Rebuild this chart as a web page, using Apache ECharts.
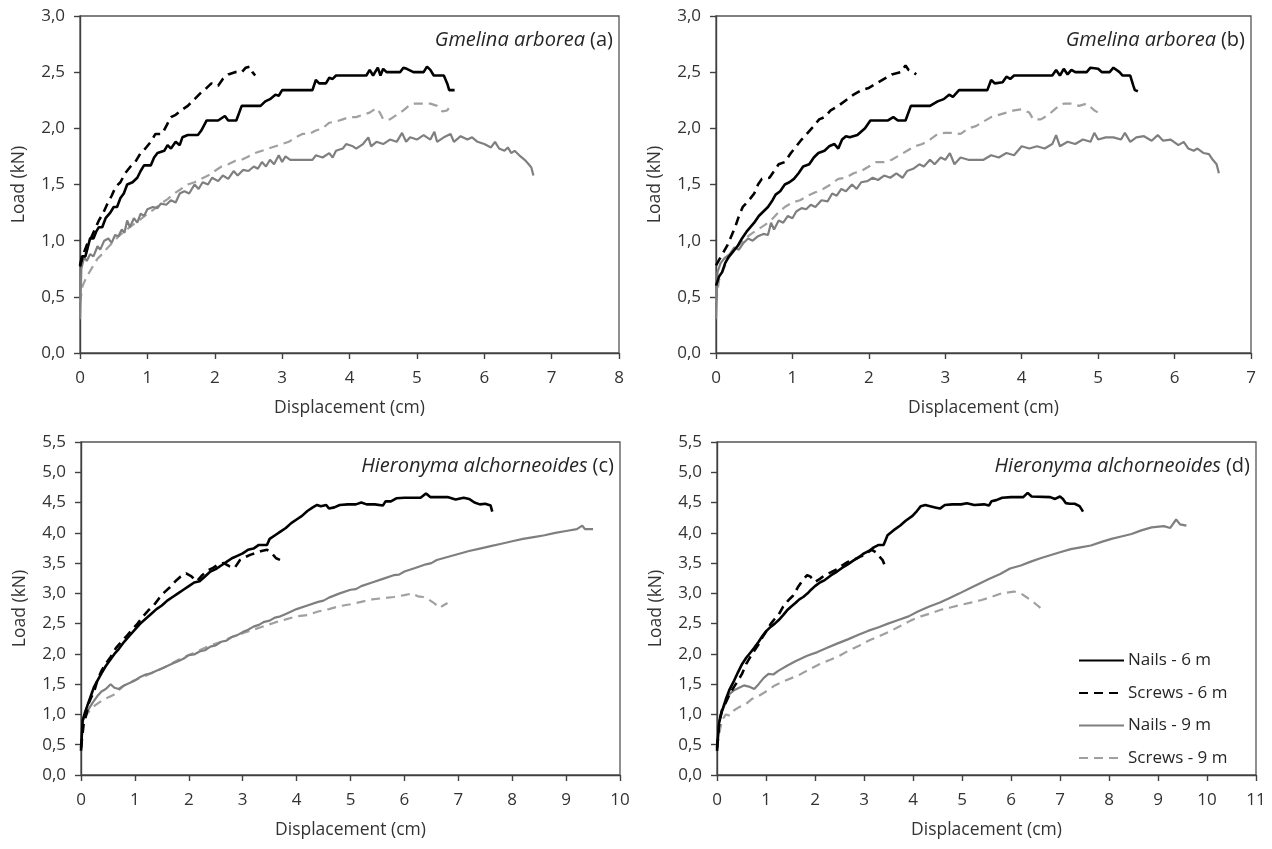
<!DOCTYPE html>
<html>
<head>
<meta charset="utf-8">
<script src="https://cdn.jsdelivr.net/npm/echarts@6/dist/echarts.min.js"></script>
<style>
html,body{margin:0;padding:0;background:#fff;}
#chart{width:1272px;height:849px;}
</style>
</head>
<body>
<div id="chart"></div>
<script>
// ---------- DATA ----------
const seriesNames = ['Nails - 6 m', 'Screws - 6 m', 'Nails - 9 m', 'Screws - 9 m'];
const panelSpecies = ['Gmelina arborea', 'Gmelina arborea', 'Hieronyma alchorneoides', 'Hieronyma alchorneoides'];
const panelLetters = ['(a)', '(b)', '(c)', '(d)'];
const xMaxes = [8, 7, 10, 11];
const yMaxes = [3.0, 3.0, 5.5, 5.5];
const xAxisTitle = 'Displacement (cm)';
const yAxisTitle = 'Load (kN)';

// Panel (a)
const aNails6 = [[0,0.78],[0.03,0.86],[0.08,0.86],[0.12,0.95],[0.15,1.02],[0.2,1.02],[0.24,1.08],[0.28,1.12],[0.33,1.12],[0.38,1.2],[0.45,1.25],[0.5,1.3],[0.55,1.3],[0.6,1.38],[0.65,1.42],[0.7,1.5],[0.78,1.52],[0.85,1.56],[0.9,1.62],[0.95,1.67],[1.05,1.67],[1.1,1.74],[1.15,1.78],[1.25,1.8],[1.3,1.85],[1.35,1.82],[1.42,1.88],[1.48,1.85],[1.52,1.92],[1.6,1.94],[1.75,1.94],[1.8,1.98],[1.88,2.07],[2.05,2.07],[2.15,2.11],[2.2,2.07],[2.32,2.07],[2.4,2.2],[2.68,2.2],[2.75,2.24],[2.82,2.26],[2.9,2.3],[2.95,2.29],[3.0,2.34],[3.45,2.34],[3.5,2.43],[3.55,2.4],[3.65,2.4],[3.7,2.45],[3.75,2.44],[3.8,2.47],[4.25,2.47],[4.3,2.52],[4.35,2.47],[4.42,2.54],[4.46,2.47],[4.5,2.53],[4.55,2.5],[4.75,2.5],[4.8,2.54],[4.85,2.53],[4.95,2.5],[5.1,2.5],[5.15,2.55],[5.2,2.52],[5.25,2.47],[5.4,2.47],[5.45,2.4],[5.48,2.34],[5.56,2.34]];
const aScrews6 = [[0,0.77],[0.05,0.88],[0.1,0.96],[0.16,1.02],[0.22,1.1],[0.28,1.18],[0.34,1.24],[0.4,1.32],[0.47,1.4],[0.53,1.48],[0.6,1.52],[0.67,1.6],[0.75,1.66],[0.82,1.7],[0.9,1.78],[0.97,1.82],[1.05,1.88],[1.12,1.95],[1.22,1.95],[1.28,2.02],[1.35,2.1],[1.42,2.12],[1.5,2.16],[1.6,2.2],[1.7,2.26],[1.8,2.32],[1.88,2.36],[1.95,2.4],[2.05,2.38],[2.12,2.44],[2.2,2.48],[2.3,2.5],[2.4,2.5],[2.46,2.54],[2.52,2.55],[2.56,2.5],[2.6,2.47]];
const aNails9 = [[0,0.3],[0.02,0.75],[0.06,0.85],[0.1,0.82],[0.15,0.88],[0.2,0.86],[0.26,0.95],[0.3,0.92],[0.36,1.0],[0.42,1.02],[0.47,0.98],[0.52,1.05],[0.57,1.04],[0.62,1.1],[0.66,1.07],[0.7,1.18],[0.74,1.12],[0.8,1.2],[0.85,1.16],[0.9,1.24],[0.95,1.22],[1.0,1.28],[1.08,1.3],[1.15,1.29],[1.2,1.33],[1.28,1.32],[1.35,1.36],[1.42,1.34],[1.48,1.42],[1.55,1.44],[1.62,1.42],[1.7,1.5],[1.76,1.46],[1.82,1.52],[1.9,1.5],[1.96,1.56],[2.05,1.53],[2.12,1.58],[2.2,1.55],[2.28,1.62],[2.34,1.58],[2.42,1.63],[2.5,1.62],[2.58,1.66],[2.64,1.64],[2.7,1.7],[2.76,1.66],[2.82,1.72],[2.88,1.68],[2.95,1.76],[3.0,1.7],[3.05,1.75],[3.12,1.72],[3.2,1.72],[3.45,1.72],[3.5,1.76],[3.6,1.74],[3.7,1.78],[3.75,1.74],[3.8,1.8],[3.9,1.82],[3.95,1.86],[4.05,1.84],[4.1,1.82],[4.2,1.86],[4.28,1.92],[4.32,1.84],[4.4,1.88],[4.5,1.86],[4.6,1.9],[4.7,1.88],[4.78,1.96],[4.84,1.88],[4.9,1.92],[5.0,1.9],[5.1,1.94],[5.2,1.9],[5.26,1.97],[5.3,1.88],[5.4,1.92],[5.5,1.95],[5.55,1.88],[5.65,1.93],[5.75,1.9],[5.82,1.92],[5.9,1.88],[6.0,1.86],[6.1,1.83],[6.16,1.88],[6.22,1.82],[6.3,1.8],[6.35,1.83],[6.4,1.78],[6.45,1.8],[6.52,1.76],[6.6,1.72],[6.66,1.68],[6.7,1.65],[6.73,1.58]];
const aScrews9 = [[0,0.45],[0.04,0.6],[0.1,0.68],[0.18,0.76],[0.26,0.84],[0.33,0.88],[0.4,0.93],[0.48,0.98],[0.56,1.03],[0.65,1.08],[0.74,1.12],[0.83,1.16],[0.92,1.2],[1.0,1.24],[1.1,1.28],[1.2,1.33],[1.3,1.37],[1.4,1.42],[1.5,1.46],[1.6,1.5],[1.7,1.52],[1.8,1.55],[1.9,1.58],[2.0,1.62],[2.1,1.66],[2.2,1.68],[2.3,1.71],[2.4,1.72],[2.5,1.75],[2.6,1.78],[2.7,1.8],[2.8,1.82],[2.9,1.84],[3.0,1.86],[3.1,1.88],[3.2,1.92],[3.3,1.95],[3.4,1.95],[3.5,1.98],[3.6,2.0],[3.7,2.05],[3.8,2.06],[3.9,2.08],[4.0,2.1],[4.1,2.1],[4.2,2.12],[4.3,2.14],[4.4,2.18],[4.45,2.14],[4.5,2.08],[4.6,2.08],[4.7,2.12],[4.8,2.16],[4.88,2.2],[4.95,2.22],[5.1,2.22],[5.2,2.22],[5.3,2.2],[5.38,2.15],[5.45,2.16],[5.5,2.2]];

// Panel (b)
const bNails6 = [[0,0.6],[0.04,0.68],[0.08,0.72],[0.12,0.8],[0.16,0.85],[0.22,0.9],[0.28,0.95],[0.34,1.02],[0.4,1.08],[0.45,1.12],[0.5,1.16],[0.56,1.22],[0.62,1.26],[0.68,1.3],[0.74,1.36],[0.78,1.41],[0.84,1.44],[0.9,1.5],[0.96,1.52],[1.02,1.55],[1.08,1.6],[1.14,1.66],[1.22,1.68],[1.28,1.74],[1.34,1.78],[1.42,1.8],[1.48,1.84],[1.55,1.86],[1.6,1.82],[1.65,1.9],[1.7,1.93],[1.75,1.92],[1.85,1.94],[1.95,2.0],[2.02,2.07],[2.25,2.07],[2.32,2.1],[2.38,2.07],[2.48,2.07],[2.55,2.2],[2.8,2.2],[2.9,2.24],[2.98,2.26],[3.05,2.3],[3.1,2.28],[3.18,2.34],[3.55,2.34],[3.6,2.43],[3.65,2.4],[3.75,2.41],[3.8,2.46],[3.85,2.44],[3.9,2.47],[4.4,2.47],[4.45,2.52],[4.5,2.47],[4.55,2.53],[4.6,2.48],[4.65,2.52],[4.7,2.5],[4.85,2.5],[4.9,2.54],[5.0,2.53],[5.05,2.5],[5.15,2.5],[5.2,2.54],[5.28,2.5],[5.32,2.47],[5.42,2.47],[5.46,2.38],[5.48,2.34],[5.52,2.33]];
const bScrews6 = [[0,0.78],[0.05,0.84],[0.1,0.9],[0.15,0.96],[0.2,1.04],[0.25,1.12],[0.3,1.22],[0.35,1.3],[0.42,1.35],[0.5,1.42],[0.55,1.5],[0.6,1.55],[0.7,1.56],[0.76,1.62],[0.82,1.68],[0.9,1.7],[0.98,1.78],[1.05,1.84],[1.12,1.9],[1.2,1.96],[1.28,2.02],[1.35,2.08],[1.42,2.1],[1.5,2.16],[1.6,2.2],[1.7,2.25],[1.8,2.3],[1.9,2.34],[2.0,2.36],[2.1,2.4],[2.2,2.44],[2.3,2.48],[2.42,2.5],[2.48,2.56],[2.52,2.52],[2.58,2.5],[2.62,2.48]];
const bNails9 = [[0,0.3],[0.02,0.72],[0.06,0.8],[0.12,0.85],[0.18,0.88],[0.24,0.94],[0.3,0.92],[0.36,0.98],[0.42,1.02],[0.48,1.0],[0.55,1.04],[0.62,1.06],[0.68,1.05],[0.72,1.16],[0.76,1.1],[0.82,1.18],[0.88,1.16],[0.94,1.22],[1.0,1.2],[1.05,1.26],[1.12,1.29],[1.18,1.28],[1.24,1.32],[1.3,1.3],[1.38,1.36],[1.46,1.35],[1.52,1.42],[1.58,1.4],[1.64,1.46],[1.7,1.44],[1.78,1.5],[1.84,1.46],[1.9,1.52],[1.98,1.53],[2.05,1.56],[2.12,1.54],[2.2,1.58],[2.28,1.56],[2.36,1.6],[2.44,1.56],[2.5,1.62],[2.58,1.64],[2.66,1.68],[2.72,1.66],[2.8,1.72],[2.86,1.68],[2.94,1.74],[3.0,1.72],[3.06,1.78],[3.12,1.68],[3.2,1.74],[3.3,1.72],[3.5,1.72],[3.6,1.76],[3.7,1.74],[3.8,1.78],[3.9,1.76],[4.0,1.84],[4.1,1.82],[4.2,1.84],[4.3,1.82],[4.4,1.86],[4.45,1.94],[4.5,1.84],[4.6,1.88],[4.7,1.86],[4.8,1.9],[4.9,1.88],[4.95,1.96],[5.0,1.9],[5.1,1.92],[5.2,1.92],[5.3,1.9],[5.35,1.96],[5.42,1.88],[5.5,1.92],[5.6,1.93],[5.7,1.89],[5.78,1.94],[5.85,1.89],[5.95,1.9],[6.05,1.85],[6.12,1.88],[6.18,1.82],[6.25,1.8],[6.3,1.82],[6.38,1.78],[6.45,1.77],[6.5,1.72],[6.55,1.68],[6.58,1.6]];
const bScrews9 = [[0,0.45],[0.04,0.65],[0.1,0.75],[0.16,0.84],[0.22,0.9],[0.3,0.96],[0.38,1.02],[0.46,1.06],[0.55,1.1],[0.64,1.14],[0.72,1.18],[0.8,1.24],[0.9,1.3],[1.0,1.34],[1.1,1.36],[1.2,1.4],[1.3,1.43],[1.4,1.46],[1.5,1.5],[1.6,1.55],[1.7,1.56],[1.8,1.6],[1.9,1.62],[2.0,1.66],[2.1,1.7],[2.2,1.7],[2.3,1.72],[2.4,1.76],[2.5,1.8],[2.6,1.84],[2.7,1.86],[2.8,1.9],[2.9,1.95],[3.0,1.96],[3.1,1.96],[3.2,1.95],[3.3,2.0],[3.4,2.02],[3.5,2.06],[3.6,2.1],[3.7,2.12],[3.8,2.14],[3.9,2.16],[4.0,2.17],[4.1,2.14],[4.15,2.08],[4.25,2.08],[4.35,2.12],[4.45,2.18],[4.55,2.22],[4.65,2.22],[4.75,2.2],[4.85,2.22],[4.95,2.16],[5.0,2.14],[5.05,2.15]];

// Panel (c)
const cNails6 = [[0,0.4],[0.03,0.9],[0.08,1.05],[0.12,1.15],[0.18,1.3],[0.24,1.45],[0.3,1.55],[0.38,1.68],[0.46,1.8],[0.54,1.9],[0.62,2.0],[0.7,2.08],[0.8,2.2],[0.9,2.3],[1.0,2.4],[1.1,2.5],[1.2,2.58],[1.3,2.66],[1.4,2.74],[1.5,2.8],[1.6,2.88],[1.7,2.94],[1.8,3.0],[1.9,3.06],[2.0,3.12],[2.1,3.18],[2.2,3.2],[2.3,3.28],[2.4,3.36],[2.5,3.4],[2.6,3.46],[2.7,3.52],[2.8,3.58],[2.9,3.62],[3.0,3.66],[3.1,3.72],[3.2,3.74],[3.3,3.8],[3.45,3.8],[3.5,3.9],[3.6,3.96],[3.7,4.02],[3.8,4.08],[3.9,4.16],[4.0,4.22],[4.1,4.28],[4.2,4.36],[4.3,4.42],[4.38,4.46],[4.45,4.44],[4.55,4.46],[4.6,4.4],[4.7,4.42],[4.8,4.46],[4.95,4.47],[5.1,4.47],[5.2,4.5],[5.3,4.47],[5.45,4.47],[5.6,4.45],[5.65,4.52],[5.75,4.52],[5.85,4.57],[6.0,4.58],[6.3,4.58],[6.4,4.65],[6.48,4.59],[6.8,4.59],[6.95,4.55],[7.1,4.58],[7.2,4.56],[7.3,4.5],[7.4,4.47],[7.5,4.48],[7.6,4.45],[7.63,4.35]];
const cScrews6 = [[0,0.45],[0.05,0.85],[0.1,1.0],[0.15,1.2],[0.2,1.3],[0.25,1.4],[0.3,1.55],[0.38,1.72],[0.46,1.84],[0.55,1.95],[0.65,2.1],[0.75,2.2],[0.85,2.3],[0.95,2.4],[1.05,2.5],[1.15,2.62],[1.25,2.72],[1.35,2.8],[1.45,2.92],[1.55,3.02],[1.65,3.1],[1.75,3.2],[1.85,3.28],[1.95,3.33],[2.05,3.28],[2.15,3.2],[2.25,3.3],[2.35,3.38],[2.45,3.42],[2.55,3.48],[2.65,3.5],[2.75,3.45],[2.85,3.42],[2.95,3.55],[3.05,3.6],[3.15,3.64],[3.25,3.67],[3.35,3.7],[3.45,3.72],[3.55,3.65],[3.62,3.58],[3.7,3.55],[3.73,3.5]];
const cNails9 = [[0,0.4],[0.03,0.88],[0.08,1.0],[0.15,1.1],[0.22,1.2],[0.3,1.3],[0.38,1.38],[0.46,1.42],[0.55,1.5],[0.62,1.44],[0.7,1.42],[0.8,1.48],[0.9,1.52],[1.0,1.56],[1.1,1.62],[1.2,1.66],[1.3,1.68],[1.4,1.72],[1.5,1.76],[1.6,1.8],[1.7,1.84],[1.8,1.88],[1.9,1.92],[2.0,1.98],[2.1,1.99],[2.2,2.04],[2.3,2.06],[2.4,2.12],[2.5,2.14],[2.6,2.2],[2.7,2.22],[2.8,2.28],[2.9,2.31],[3.0,2.36],[3.1,2.4],[3.2,2.45],[3.3,2.48],[3.4,2.53],[3.5,2.55],[3.6,2.6],[3.7,2.62],[3.8,2.66],[3.9,2.7],[4.0,2.74],[4.2,2.8],[4.4,2.86],[4.5,2.88],[4.6,2.93],[4.8,3.0],[5.0,3.06],[5.1,3.07],[5.2,3.12],[5.4,3.18],[5.6,3.24],[5.8,3.3],[5.9,3.31],[6.0,3.36],[6.2,3.42],[6.4,3.48],[6.5,3.5],[6.6,3.55],[6.8,3.6],[7.0,3.65],[7.2,3.7],[7.4,3.74],[7.6,3.78],[7.8,3.82],[8.0,3.86],[8.2,3.9],[8.4,3.93],[8.6,3.96],[8.8,4.0],[9.0,4.03],[9.2,4.06],[9.3,4.12],[9.35,4.06],[9.5,4.06]];
const cScrews9 = [[0,0.45],[0.05,0.9],[0.1,1.0],[0.18,1.08],[0.26,1.15],[0.34,1.2],[0.42,1.25],[0.5,1.28],[0.6,1.32],[0.7,1.4],[0.8,1.48],[0.9,1.52],[1.0,1.57],[1.2,1.64],[1.4,1.72],[1.6,1.8],[1.8,1.9],[2.0,1.98],[2.2,2.06],[2.4,2.14],[2.6,2.2],[2.8,2.28],[3.0,2.34],[3.2,2.4],[3.4,2.46],[3.6,2.52],[3.8,2.57],[4.0,2.62],[4.2,2.64],[4.4,2.7],[4.6,2.74],[4.8,2.79],[5.0,2.82],[5.2,2.86],[5.4,2.9],[5.6,2.92],[5.8,2.94],[6.0,2.97],[6.15,3.0],[6.25,2.95],[6.35,2.94],[6.45,2.9],[6.55,2.84],[6.65,2.76],[6.72,2.8],[6.8,2.84]];

// Panel (d)
const dNails6 = [[0,0.4],[0.04,0.85],[0.1,1.05],[0.18,1.25],[0.26,1.42],[0.35,1.56],[0.43,1.7],[0.51,1.83],[0.6,1.94],[0.68,2.02],[0.76,2.1],[0.85,2.2],[0.93,2.3],[1.01,2.38],[1.1,2.45],[1.18,2.5],[1.26,2.56],[1.35,2.64],[1.43,2.72],[1.51,2.78],[1.6,2.84],[1.68,2.9],[1.76,2.94],[1.85,3.0],[1.92,3.06],[2.0,3.12],[2.1,3.18],[2.2,3.22],[2.33,3.3],[2.45,3.36],[2.55,3.42],[2.67,3.48],[2.78,3.54],[2.9,3.6],[3.0,3.66],[3.1,3.7],[3.2,3.76],[3.3,3.8],[3.4,3.8],[3.48,3.96],[3.6,4.04],[3.74,4.12],[3.85,4.2],[3.99,4.28],[4.08,4.36],[4.16,4.44],[4.25,4.46],[4.35,4.44],[4.45,4.42],[4.55,4.4],[4.65,4.46],[4.8,4.47],[4.98,4.47],[5.1,4.49],[5.25,4.46],[5.45,4.47],[5.55,4.45],[5.6,4.52],[5.7,4.54],[5.82,4.58],[6.0,4.59],[6.25,4.59],[6.34,4.66],[6.42,4.6],[6.8,4.59],[6.9,4.56],[7.0,4.6],[7.06,4.56],[7.12,4.49],[7.2,4.48],[7.3,4.48],[7.4,4.44],[7.47,4.35]];
const dScrews6 = [[0,0.45],[0.05,0.9],[0.1,1.07],[0.18,1.2],[0.26,1.34],[0.35,1.46],[0.43,1.56],[0.51,1.67],[0.6,1.84],[0.68,1.95],[0.76,2.05],[0.85,2.16],[0.93,2.28],[1.01,2.38],[1.1,2.5],[1.18,2.58],[1.26,2.65],[1.35,2.78],[1.45,2.88],[1.55,2.96],[1.65,3.1],[1.75,3.22],[1.84,3.3],[1.9,3.28],[2.0,3.19],[2.1,3.24],[2.2,3.3],[2.33,3.35],[2.45,3.4],[2.55,3.46],[2.67,3.52],[2.78,3.55],[2.9,3.6],[3.0,3.63],[3.08,3.68],[3.16,3.72],[3.24,3.68],[3.3,3.62],[3.38,3.55],[3.45,3.41]];
const dNails9 = [[0,0.4],[0.04,0.9],[0.1,1.05],[0.18,1.2],[0.26,1.34],[0.35,1.4],[0.45,1.44],[0.55,1.48],[0.65,1.46],[0.76,1.42],[0.85,1.5],[0.95,1.6],[1.05,1.67],[1.15,1.66],[1.25,1.72],[1.42,1.8],[1.6,1.88],[1.84,1.97],[2.05,2.03],[2.25,2.1],[2.45,2.17],[2.67,2.24],[2.9,2.32],[3.08,2.38],[3.3,2.44],[3.49,2.5],[3.7,2.56],[3.91,2.62],[4.1,2.7],[4.32,2.78],[4.55,2.85],[4.74,2.92],[4.95,3.0],[5.15,3.08],[5.35,3.16],[5.56,3.24],[5.78,3.32],[5.98,3.41],[6.2,3.46],[6.39,3.52],[6.6,3.58],[6.8,3.63],[7.0,3.68],[7.22,3.73],[7.42,3.76],[7.63,3.79],[7.85,3.85],[8.05,3.9],[8.25,3.94],[8.46,3.98],[8.66,4.04],[8.87,4.09],[9.12,4.11],[9.25,4.08],[9.37,4.22],[9.45,4.14],[9.58,4.12]];
const dScrews9 = [[0,0.45],[0.05,0.7],[0.1,0.9],[0.18,1.0],[0.26,0.98],[0.35,1.07],[0.45,1.12],[0.6,1.18],[0.72,1.26],[0.84,1.3],[1.0,1.38],[1.18,1.48],[1.4,1.56],[1.67,1.65],[1.9,1.75],[2.09,1.83],[2.3,1.9],[2.5,1.97],[2.7,2.06],[2.91,2.14],[3.1,2.22],[3.33,2.3],[3.55,2.38],[3.74,2.46],[3.95,2.55],[4.16,2.62],[4.36,2.67],[4.57,2.73],[4.78,2.77],[4.98,2.81],[5.2,2.85],[5.4,2.89],[5.6,2.94],[5.81,3.0],[6.06,3.03],[6.2,3.0],[6.31,2.94],[6.42,2.88],[6.51,2.82],[6.6,2.76]];

const panelData = [
  [aNails6, aScrews6, aNails9, aScrews9],
  [bNails6, bScrews6, bNails9, bScrews9],
  [cNails6, cScrews6, cNails9, cScrews9],
  [dNails6, dScrews6, dNails9, dScrews9]
];

// ---------- LAYOUT / STYLE ----------
const FONT = 'Open Sans';
const grids = [
  {left: 80, top: 16, width: 539, height: 337},
  {left: 716, top: 16, width: 535, height: 337},
  {left: 81, top: 442, width: 539, height: 333},
  {left: 717, top: 442, width: 539, height: 333}
];
const lineStyles = [
  {color: '#000000', width: 2.6, type: 'solid'},
  {color: '#000000', width: 2.6, type: [9, 6]},
  {color: '#7f7f7f', width: 2.2, type: 'solid'},
  {color: '#a0a0a0', width: 2.2, type: [9, 6]}
];

const axisLineStyle = {lineStyle: {color: '#404040', width: 1.4}};
const tickStyle = {show: true, inside: false, length: 6, lineStyle: {color: '#404040', width: 1.4}};
const labelText = {fontFamily: FONT, fontSize: 17, color: '#333333'};

const xAxes = [], yAxes = [], series = [], titles = [];
grids.forEach((g, i) => {
  g.show = true;
  g.borderColor = '#555555';
  g.borderWidth = 1.3;
  g.containLabel = false;
  xAxes.push({
    gridIndex: i, type: 'value', min: 0, max: xMaxes[i], interval: 1,
    name: xAxisTitle, nameLocation: 'middle', nameGap: 46,
    nameTextStyle: {fontFamily: FONT, fontSize: 17.5, color: '#333333'},
    axisLine: axisLineStyle, axisTick: tickStyle, splitLine: {show: false},
    axisLabel: Object.assign({margin: 17, showMinLabel: true, showMaxLabel: true}, labelText)
  });
  yAxes.push({
    gridIndex: i, type: 'value', min: 0, max: yMaxes[i], interval: 0.5,
    name: yAxisTitle, nameLocation: 'middle', nameGap: 52,
    nameTextStyle: {fontFamily: FONT, fontSize: 17.5, color: '#333333'},
    axisLine: axisLineStyle, axisTick: tickStyle, splitLine: {show: false},
    axisLabel: Object.assign({margin: 15, formatter: v => v.toFixed(1).replace('.', ',')}, labelText)
  });
  panelData[i].forEach((d, k) => {
    series.push({
      name: seriesNames[k], type: 'line', xAxisIndex: i, yAxisIndex: i,
      data: d, showSymbol: false, symbol: 'none', smooth: false,
      lineStyle: lineStyles[k], itemStyle: {color: lineStyles[k].color},
      z: 4 - k, animation: false
    });
  });
  titles.push({
    text: '{i|' + panelSpecies[i] + '} {n|' + panelLetters[i] + '}',
    right: 1272 - (g.left + g.width - 6), top: g.top + 14, padding: 0,
    textStyle: {
      fontWeight: 'normal',
      rich: {
        i: {fontFamily: FONT, fontSize: 20, fontStyle: 'italic', fontWeight: 'normal', color: '#262626'},
        n: {fontFamily: FONT, fontSize: 20, fontWeight: 'normal', color: '#262626'}
      }
    }
  });
});

const chart = echarts.init(document.getElementById('chart'), null, {renderer: 'canvas'});
chart.setOption({
  backgroundColor: '#ffffff',
  animation: false,
  title: titles,
  grid: grids,
  xAxis: xAxes,
  yAxis: yAxes,
  legend: {
    data: seriesNames, orient: 'vertical', left: 1078, top: 652, padding: 0,
    itemWidth: 45, itemHeight: 14, itemGap: 15.5,
    itemStyle: {opacity: 0, borderWidth: 0},
    textStyle: {fontFamily: FONT, fontSize: 17, color: '#262626', padding: [0, 0, 0, -1]},
    selectedMode: false
  },
  series: series
});
</script>
</body>
</html>
